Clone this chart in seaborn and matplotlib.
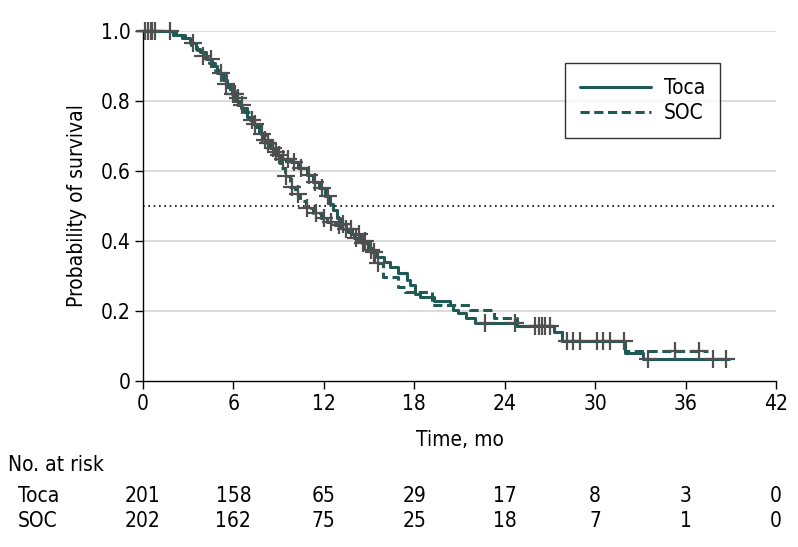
import numpy as np
import pandas as pd
import matplotlib
matplotlib.use("Agg")
import matplotlib.pyplot as plt
import seaborn as sns

# Kaplan-Meier step points (time in months, survival after the step)
toca_t = [0, 2.0, 2.6, 3.1, 3.5, 3.8, 4.2, 4.6, 4.9, 5.3, 5.6, 5.9, 6.2, 6.5, 6.9,
          7.3, 7.7, 8.0, 8.4, 8.8, 9.2, 9.8, 10.3, 10.9, 11.3, 11.7, 12.1, 12.4,
          12.6, 12.9, 13.1, 13.5, 13.9, 14.4, 14.9, 15.2, 15.5, 16.0, 16.4, 16.9,
          17.5, 17.7, 18.05, 18.4, 19.3, 20.4, 20.6, 20.9, 21.4, 22.0, 24.8, 27.3,
          27.8, 32.0, 33.2, 38.9]
toca_s = [1.0, 0.99, 0.98, 0.965, 0.95, 0.94, 0.92, 0.90, 0.88, 0.86, 0.84, 0.82,
          0.80, 0.78, 0.755, 0.735, 0.71, 0.69, 0.665, 0.645, 0.635, 0.625, 0.61,
          0.59, 0.57, 0.55, 0.53, 0.505, 0.49, 0.465, 0.45, 0.435, 0.42, 0.40, 0.38,
          0.37, 0.355, 0.34, 0.325, 0.31, 0.29, 0.274, 0.25, 0.24, 0.23, 0.217,
          0.203, 0.194, 0.18, 0.167, 0.157, 0.14, 0.114, 0.08, 0.063, 0.063]

soc_t = [0, 2.2, 2.8, 3.2, 3.6, 4.0, 4.4, 4.8, 5.1, 5.5, 5.8, 6.1, 6.4, 6.7, 7.1,
         7.5, 7.8, 8.2, 8.6, 9.1, 9.4, 9.75, 10.1, 10.4, 10.8, 11.3, 11.8, 12.2,
         12.7, 13.1, 13.6, 14.0, 14.5, 14.9, 15.3, 15.9, 16.9, 17.4, 19.2, 21.7,
         23.3, 24.8, 27.3, 27.8, 32.0, 37.5]
soc_s = [1.0, 0.99, 0.975, 0.96, 0.945, 0.93, 0.91, 0.89, 0.875, 0.85, 0.83, 0.81,
         0.79, 0.77, 0.745, 0.725, 0.705, 0.68, 0.655, 0.61, 0.585, 0.555, 0.535,
         0.515, 0.495, 0.48, 0.465, 0.455, 0.445, 0.435, 0.425, 0.41, 0.395, 0.375,
         0.337, 0.297, 0.27, 0.254, 0.217, 0.203, 0.18, 0.157, 0.14, 0.114, 0.086,
         0.086]

# censoring times
toca_cens = [0.1, 0.5, 0.8, 1.8, 3.3, 4.5, 5.2, 5.95, 6.1, 7.4, 8.1, 8.6, 9.0, 9.3,
             9.6, 10.0, 10.5, 11.0, 11.4, 11.9, 12.3, 13.3, 13.8, 14.3, 14.7, 15.3,
             22.7, 24.7, 26.0, 26.3, 26.7, 28.1, 28.5, 29.0, 30.1, 30.5, 31.0,
             31.9, 33.5, 37.8, 38.7]
soc_cens = [0.3, 0.6, 4.0, 5.5, 6.3, 6.6, 7.2, 7.9, 8.3, 8.8, 9.5, 9.9, 10.3, 10.9,
            11.5, 12.0, 12.5, 13.0, 13.5, 14.1, 14.6, 15.1, 15.6, 26.5, 27.0,
            35.3, 36.9]

ticks = [0, 6, 12, 18, 24, 30, 36, 42]
risk_toca = [201, 158, 65, 29, 17, 8, 3, 0]
risk_soc = [202, 162, 75, 25, 18, 7, 1, 0]

teal = "#1f5a54"
gray = "#4f4f4f"
fs = 15

sns.set_style("white")
plt.rcParams["font.family"] = ["DejaVu Sans"]
plt.rcParams["font.stretch"] = "condensed"
plt.rcParams["text.color"] = "black"
plt.rcParams["axes.labelcolor"] = "black"
plt.rcParams["xtick.color"] = "black"
plt.rcParams["ytick.color"] = "black"

curves = pd.concat([
    pd.DataFrame({"time": toca_t, "surv": toca_s, "arm": "Toca"}),
    pd.DataFrame({"time": soc_t, "surv": soc_s, "arm": "SOC"}),
])


def step_value(times, survs, t):
    i = np.searchsorted(times, t, side="right") - 1
    return survs[i]


cens = pd.concat([
    pd.DataFrame({"time": toca_cens,
                  "surv": [step_value(toca_t, toca_s, c) for c in toca_cens]}),
    pd.DataFrame({"time": soc_cens,
                  "surv": [step_value(soc_t, soc_s, c) for c in soc_cens]}),
])

fig = plt.figure(figsize=(7.98, 5.47), dpi=100)
ax = fig.add_axes([143 / 798, 1 - 381 / 547, 633 / 798, 350 / 547])

for y in [0.2, 0.4, 0.6, 0.8, 1.0]:
    ax.axhline(y, color="#d9d9d9", lw=1.3, zorder=0)
ax.axhline(0.5, color="black", lw=1.2, ls=(0, (1, 2.2)), zorder=1)

sns.lineplot(data=curves, x="time", y="surv", hue="arm", style="arm",
             palette={"Toca": teal, "SOC": teal},
             dashes={"Toca": "", "SOC": (3, 1.5)},
             estimator=None, sort=False, drawstyle="steps-post",
             linewidth=2.2, ax=ax, zorder=3, clip_on=False)
sns.scatterplot(data=cens, x="time", y="surv", marker="+", s=150,
                color=gray, linewidth=1.6, ax=ax, zorder=4, clip_on=False,
                legend=False)

ax.set_xlim(0, 42)
ax.set_ylim(0, 1.0)
ax.set_xticks(ticks)
ax.set_yticks([0, 0.2, 0.4, 0.6, 0.8, 1.0])
ax.set_yticklabels(["0", "0.2", "0.4", "0.6", "0.8", "1.0"])
ax.tick_params(axis="both", labelsize=fs, length=6, width=1, color="black",
               direction="out", bottom=True, left=True, pad=3)
for side in ["top", "right"]:
    ax.spines[side].set_visible(False)
for side in ["left", "bottom"]:
    ax.spines[side].set_color("black")
    ax.spines[side].set_linewidth(1)
ax.set_xlabel("Time, mo", fontsize=fs, labelpad=12)
ax.set_ylabel("Probability of survival", fontsize=fs, labelpad=10)

handles, labels = ax.get_legend_handles_labels()
leg = ax.legend(handles, labels, loc="upper right",
                bbox_to_anchor=((720 - 143) / 633, (381 - 63) / 350),
                borderaxespad=0, frameon=True, fancybox=False,
                edgecolor="black", fontsize=fs, handlelength=3.4,
                borderpad=0.72, labelspacing=0.25, handletextpad=0.6)
leg.get_frame().set_linewidth(1)

# number at risk table
trans = matplotlib.transforms.blended_transform_factory(ax.transData, fig.transFigure)
fig.text(8 / 798, 1 - 465 / 547, "No. at risk", fontsize=fs, va="center")
fig.text(18 / 798, 1 - 496 / 547, "Toca", fontsize=fs, va="center")
fig.text(18 / 798, 1 - 521 / 547, "SOC", fontsize=fs, va="center")
for t, a, b in zip(ticks, risk_toca, risk_soc):
    ax.text(t, 1 - 496 / 547, str(a), transform=trans, ha="center",
            va="center", fontsize=fs)
    ax.text(t, 1 - 521 / 547, str(b), transform=trans, ha="center",
            va="center", fontsize=fs)

fig.savefig("out.png", dpi=100)
